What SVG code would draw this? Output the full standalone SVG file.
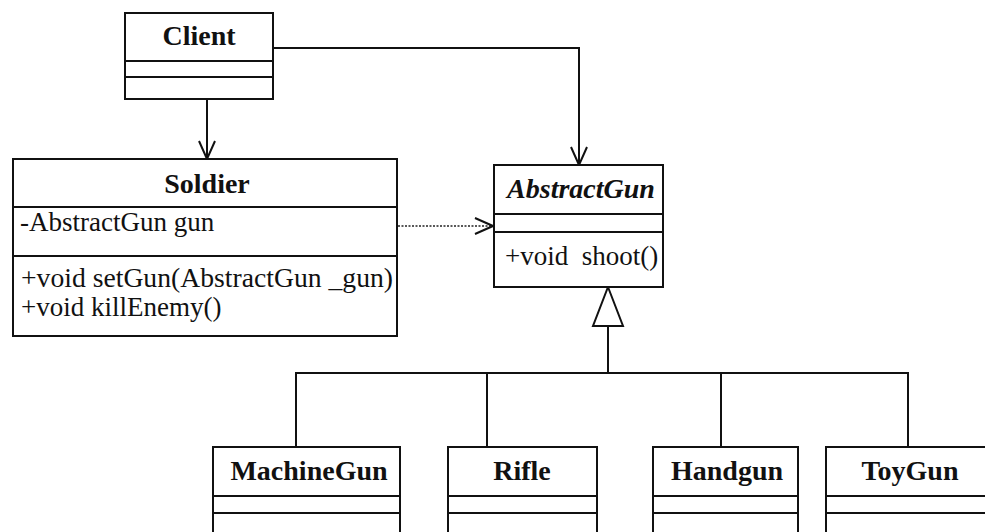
<svg xmlns="http://www.w3.org/2000/svg" width="985" height="532" viewBox="0 0 985 532">
<defs>
<style>
.box{fill:#fff;stroke:#111;stroke-width:2}
.ln{fill:none;stroke:#111;stroke-width:2}
.dot{fill:none;stroke:#222;stroke-width:1.5;stroke-dasharray:2 1.5}
.t{font-family:"Liberation Serif","Times New Roman",serif;fill:#111}
.b{font-weight:bold;text-anchor:middle;font-size:28px}
.m{font-size:27px}
</style>
<marker id="open" viewBox="0 0 20 20" refX="19" refY="10" markerWidth="20" markerHeight="20" markerUnits="userSpaceOnUse" orient="auto">
<path d="M1,2 L19,10 L1,18" fill="none" stroke="#111" stroke-width="2"/>
</marker>
</defs>
<rect width="985" height="532" fill="#fff"/>
<g id="connectors">
<path class="ln" d="M207,99 V159" marker-end="url(#open)"/>
<path class="ln" d="M273,48 H579 V165" marker-end="url(#open)"/>
<path class="dot" d="M398,226 H493" marker-end="url(#open)"/>
<path class="ln" d="M608,287 L623,326 H593 Z" fill="#fff"/>
<path class="ln" d="M608,326 V373"/>
<path class="ln" d="M296,447 V373 H908 V447"/>
<path class="ln" d="M487,373 V447"/>
<path class="ln" d="M721,373 V447"/>
</g>
<g id="client">
<rect class="box" x="125" y="13" width="148" height="86"/>
<path class="ln" d="M125,61 H273 M125,77 H273"/>
<text class="t b" x="199" y="45">Client</text>
</g>
<g id="soldier">
<rect class="box" x="13" y="159" width="384" height="177"/>
<path class="ln" d="M13,207 H397 M13,256 H397"/>
<text class="t b" x="207" y="193">Soldier</text>
<text class="t m" x="20" y="231">-AbstractGun gun</text>
<text class="t m" x="21" y="287" textLength="372" lengthAdjust="spacingAndGlyphs">+void setGun(AbstractGun _gun)</text>
<text class="t m" x="21" y="316">+void killEnemy()</text>
</g>
<g id="abstractgun">
<rect class="box" x="494" y="165" width="169" height="122"/>
<path class="ln" d="M494,214 H663 M494,232 H663"/>
<text class="t b" x="581" y="198" font-style="italic">AbstractGun</text>
<text class="t m" x="505" y="265" xml:space="preserve">+void  shoot()</text>
</g>
<g id="machinegun">
<rect class="box" x="213" y="447" width="187" height="100"/>
<path class="ln" d="M213,496 H400 M213,513 H400"/>
<text class="t b" x="309" y="480">MachineGun</text>
</g>
<g id="rifle">
<rect class="box" x="448" y="447" width="149" height="100"/>
<path class="ln" d="M448,496 H597 M448,513 H597"/>
<text class="t b" x="522" y="480">Rifle</text>
</g>
<g id="handgun">
<rect class="box" x="653" y="447" width="145" height="100"/>
<path class="ln" d="M653,496 H798 M653,513 H798"/>
<text class="t b" x="727" y="480">Handgun</text>
</g>
<g id="toygun">
<rect class="box" x="826" y="447" width="180" height="100"/>
<path class="ln" d="M826,496 H1006 M826,513 H1006"/>
<text class="t b" x="910" y="480">ToyGun</text>
</g>
</svg>
